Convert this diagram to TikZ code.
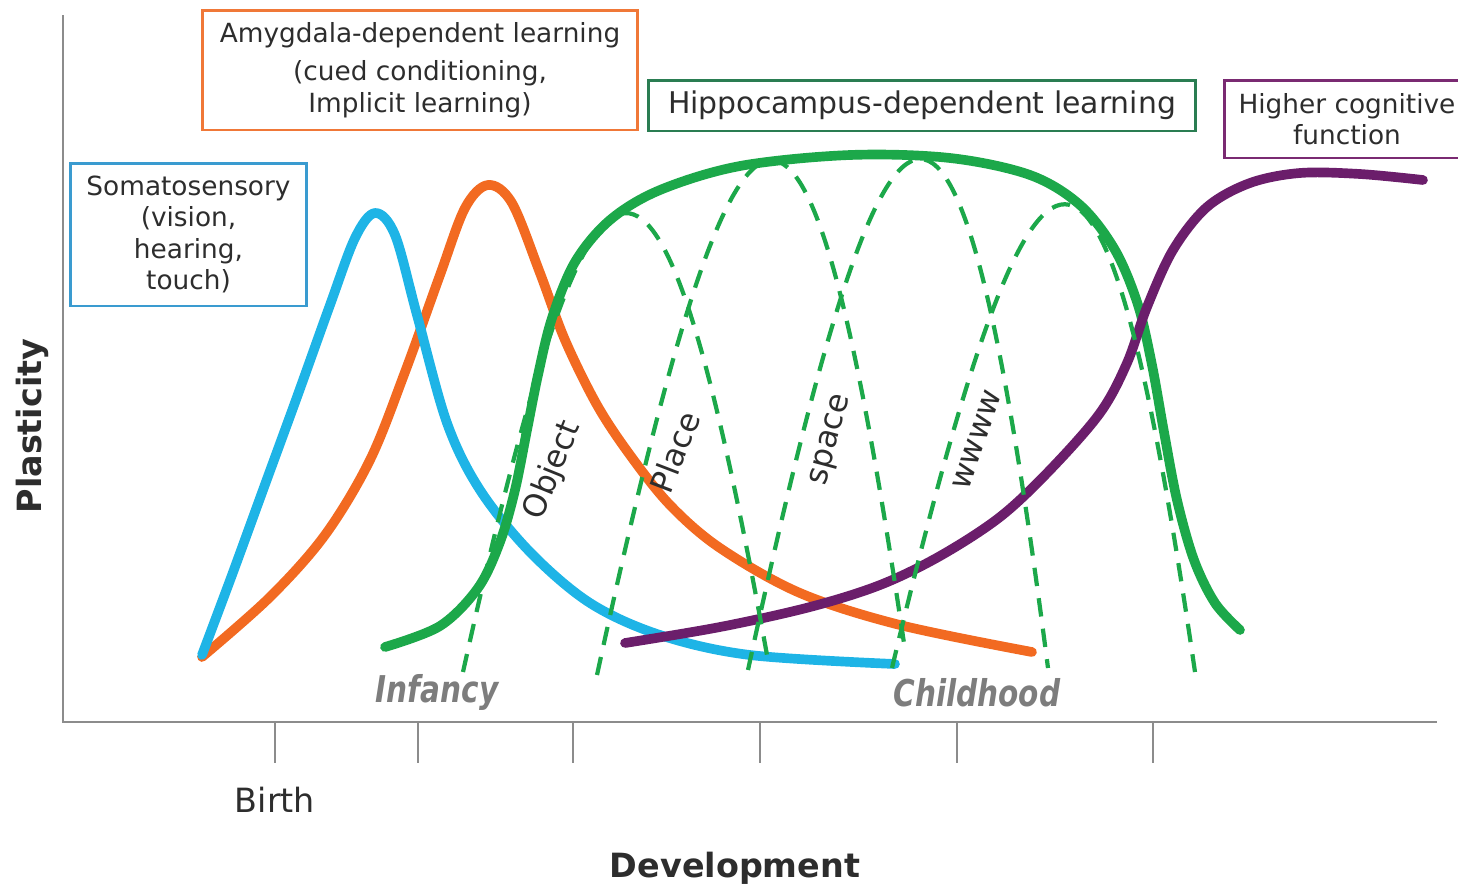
\documentclass[tikz,border=0pt]{standalone}
\usepackage{fontspec}
\setmainfont{DejaVu Sans}
\usetikzlibrary{positioning}

\definecolor{somablue}{RGB}{30,180,230}
\definecolor{somaframe}{RGB}{58,155,208}
\definecolor{amygorange}{RGB}{242,106,33}
\definecolor{amygframe}{RGB}{240,120,56}
\definecolor{hippogreen}{RGB}{28,168,74}
\definecolor{hippoframe}{RGB}{42,125,82}
\definecolor{cortexpurple}{RGB}{107,30,107}
\definecolor{cortexframe}{RGB}{122,42,114}
\definecolor{textgray}{RGB}{45,45,45}
\definecolor{phasegray}{RGB}{125,125,125}
\definecolor{axisgray}{RGB}{140,140,140}

\tikzset{
  curve/.style={line width=5.5pt, line cap=round, line join=round},
  hipdash/.style={hippogreen, line width=2.4pt, dash pattern=on 10.5pt off 7pt},
  labelbox/.style={draw, line width=1.7pt, align=center, text=textgray, inner sep=0pt,
    font=\fontsize{15}{18}\selectfont},
  phase/.style={text=phasegray, font=\fontsize{21}{24}\selectfont\bfseries\itshape,
    xscale=0.8, transform shape},
  archlabel/.style={text=textgray, font=\fontsize{18}{21}\selectfont},
}

\begin{document}
\begin{tikzpicture}[x=0.02cm, y=-0.02cm]
    \useasboundingbox (0,0) rectangle (1458,890);

    % axes
    \coordinate (top) at (63,15);
    \coordinate (origin) at (63,722);
    \coordinate (right) at (1437,722);
    \draw[axisgray, line width=1.2pt] (top) -- (origin) -- (right);
    \draw[axisgray, line width=0.6pt]
        (275,722) -- (275,763) (418,722) -- (418,763) (573,722) -- (573,763)
        (760,722) -- (760,763) (957,722) -- (957,763) (1153,722) -- (1153,763);

    \node[text=textgray, font=\fontsize{19}{22}\selectfont] (birth) at (275,800) {Birth};
    \node[text=textgray, font=\fontsize{19}{22}\selectfont\bfseries] (development) at (735,868) {Development};
    \node[text=textgray, font=\fontsize{19}{22}\selectfont\bfseries, rotate=90] (plasticity) at (32,426) {Plasticity};

    % boxes
    \node[labelbox, amygframe, text=textgray, minimum width=8.72cm, minimum height=2.4cm] (amyg) at (420,70)
        {Amygdala-dependent learning\\[4pt](cued conditioning,\\Implicit learning)};
    \node[labelbox, somaframe, text=textgray, minimum width=4.74cm, minimum height=2.86cm] (soma) at (188.5,234.5)
        {Somatosensory\\(vision,\\hearing,\\touch)};
    \node[labelbox, hippoframe, text=textgray, minimum width=10.96cm, minimum height=1.02cm,
        font=\fontsize{17}{20}\selectfont] (hippo) at (922,105.5) {Hippocampus-dependent learning};
    \node[labelbox, cortexframe, text=textgray, minimum width=4.92cm, minimum height=1.56cm] (cortex) at (1347,119)
        {Higher cognitive\\function};

    % curves
    \draw[curve, amygorange] plot[smooth, tension=0.55] coordinates {(202,657) (270,597) (325,535) (370,460)
        (405,372) (440,275) (465,208) (488,185) (512,203) (540,273) (565,340) (597,405) (630,455)
        (670,505) (720,548) (800,593) (900,625) (1032,652)};
    \draw[curve, somablue] plot[smooth, tension=0.55] coordinates {(202,655) (232,575) (263,490) (297,397)
        (330,305) (355,238) (375,213) (395,235) (417,315) (447,423) (480,490) (530,552) (590,603) (660,635)
        (750,655) (895,664)};
    \draw[curve, hippogreen] plot[smooth, tension=0.55] coordinates {(385,647) (440,626) (478,588) (500,542)
        (515,490) (527,430) (538,375) (552,318) (575,262) (610,220) (660,190) (740,166) (850,155) (950,158)
        (1030,175) (1080,205) (1115,250) (1138,305) (1152,365) (1164,432) (1177,500) (1194,560) (1215,603)
        (1240,630)};
    \draw[curve, cortexpurple] plot[smooth, tension=0.55] coordinates {(625,643) (720,627) (810,607) (880,585)
        (940,556) (1000,517) (1050,470) (1100,413) (1127,363) (1147,307) (1173,250) (1207,207) (1250,183)
        (1300,173) (1360,174) (1423,180)};

    % hippocampal sub-functions
    \draw[hipdash] (463,672) .. controls (598,63) and (659,63) .. (767,655);
    \draw[hipdash] (597,675) .. controls (745,-7) and (808,-7) .. (905,650);
    \draw[hipdash] (748,670) .. controls (895,-11) and (960,-11) .. (1048,668);
    \draw[hipdash] (892,668) .. controls (1040,49) and (1104,49) .. (1195,672);

    \node[archlabel, rotate=68] (object) at (553,470) {Object};
    \node[archlabel, rotate=69] (place) at (675,452) {Place};
    \node[archlabel, rotate=75] (space) at (832,440) {space};
    \node[archlabel, rotate=71] (wwww) at (977,440) {wwww};

    \node[phase] (infancy) at (437,692) {Infancy};
    \node[phase] (childhood) at (977,693) {Childhood};
\end{tikzpicture}
\end{document}
